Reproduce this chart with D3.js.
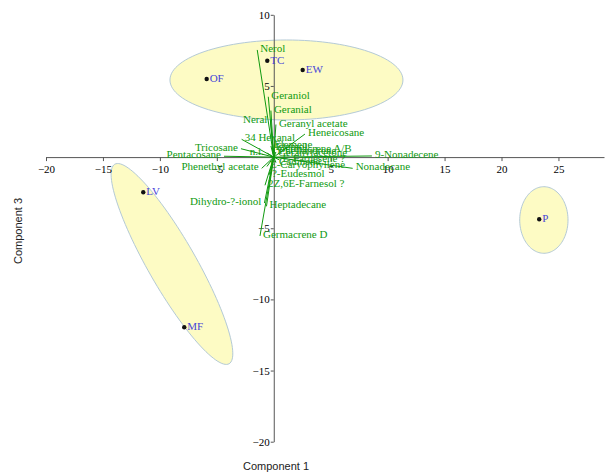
<!DOCTYPE html>
<html>
<head>
<meta charset="utf-8">
<script src="https://cdn.jsdelivr.net/npm/d3@7/dist/d3.min.js"></script>
<style>
  html, body { margin: 0; padding: 0; background: #fff; }
  svg { display: block; }
  .tick text { font-family: "Liberation Serif", serif; font-size: 11px; fill: #000; }
</style>
</head>
<body>
<svg id="chart" width="606" height="473"></svg>
<script>
// Sample scores on components 1 and 3
const sampleNames = ["OF", "TC", "EW", "LV", "MF", "P"];
const sampleC1 = [-5.89, -0.57, 2.54, -11.46, -7.86, 23.31];
const sampleC3 = [5.49, 6.77, 6.12, -2.47, -11.96, -4.37];

// Group ellipses: centre and the two semi-axis vectors, in component units
const groupCentres = [[1.115, 5.42], [-8.94, -7.51], [23.72, -4.42]];
const groupAxisA = [[10.23, 0], [5.02, -7.01], [2.12, 0]];
const groupAxisB = [[0, 2.81], [-1.83, -0.84], [0, 2.34]];

// Compound loadings (biplot vectors) on components 1 and 3
const loadingNames = [
  "Nerol", "Geraniol", "Geranial", "Neral", "Geranyl acetate", "34 Hexanal",
  "Heneicosane", "Tricosane", "Pentacosane", "Phenethyl acetate", "n.i.",
  "Dihydro-?-ionol", "Heptadecane", "Germacrene D", "2Z,6E-Farnesol ?",
  "?-Eudesmol", "9-Nonadecene", "Nonadecane", "Elemol", "Elemene",
  "Germacrene A/B", "Phellandrene", "Geranylacetone", "E-Farnesene ?",
  "Cadinene", "E-Caryophyllene"
];
const loadingC1 = [
  -1.45, -0.48, -0.25, -0.29, 0.19, -2.82,
  2.74, -2.88, -4.37, -1.06, -0.60,
  -0.82, -0.64, -1.21, -0.77,
  -0.42, 8.62, 6.93, -0.11, -0.25,
  0.06, 0.19, 0.11, 0.50,
  0.19, -0.60
];
const loadingC3 = [
  7.53, 4.24, 3.27, 2.57, 2.29, 1.25,
  1.62, 0.59, 0.06, -0.79, 0.29,
  -3.23, -3.46, -5.54, -1.98,
  -1.26, 0.08, -0.79, 0.64, 0.78,
  0.53, 0.36, 0.22, -0.20,
  -0.38, -0.66
];
// Loadings whose names sit to the left of the vector tip
const leftLabelled = ["Neral", "Tricosane", "Pentacosane", "Phenethyl acetate", "n.i.", "Dihydro-?-ionol"];

// Axis ticks
const xTicks = [-20, -15, -10, -5, 5, 10, 15, 20, 25];
const yTicks = [-20, -15, -10, -5, 5, 10];

const svg = d3.select("#chart");
const serif = '"Liberation Serif", serif';
const green = "#109a10";

const x = d3.scaleLinear().domain([-20, 29]).range([46, 604]);
const y = d3.scaleLinear().domain([-20, 10]).range([441.7, 14.8]);

// Group ellipses
const ellipseLine = d3.line().x(d => x(d[0])).y(d => y(d[1])).curve(d3.curveLinearClosed);
groupCentres.forEach((c, i) => {
  const a = groupAxisA[i], b = groupAxisB[i];
  const pts = d3.range(0, 120).map(k => {
    const t = (k / 120) * 2 * Math.PI;
    return [c[0] + Math.cos(t) * a[0] + Math.sin(t) * b[0],
            c[1] + Math.cos(t) * a[1] + Math.sin(t) * b[1]];
  });
  svg.append("path")
    .attr("d", ellipseLine(pts))
    .attr("fill", "#fdfbc4")
    .attr("stroke", "#b4cad6")
    .attr("stroke-width", 1);
});

// Axes crossing at the origin
const xAxis = svg.append("g")
  .attr("transform", `translate(0,${y(0)})`)
  .call(d3.axisBottom(x).tickValues(xTicks).tickSize(4).tickSizeOuter(0).tickFormat(d3.format("d")));
const yAxis = svg.append("g")
  .attr("transform", `translate(${x(0)},0)`)
  .call(d3.axisLeft(y).tickValues(yTicks).tickSize(3).tickSizeOuter(0).tickFormat(d3.format("d")));
[xAxis, yAxis].forEach(g => {
  g.select(".domain").attr("stroke", "#555");
  g.selectAll(".tick line").attr("stroke", "#555");
});
xAxis.selectAll(".tick text").attr("dy", null).attr("y", 16);
yAxis.selectAll(".tick text").attr("x", -4);

// Loading vectors and their names
const loadings = loadingNames.map((n, i) => ({ name: n, c1: loadingC1[i], c3: loadingC3[i] }));
svg.append("g").selectAll("line")
  .data(loadings).join("line")
  .attr("x1", x(0)).attr("y1", y(0))
  .attr("x2", d => x(d.c1)).attr("y2", d => y(d.c3))
  .attr("stroke", green).attr("stroke-width", 1);
svg.append("g").selectAll("text")
  .data(loadings).join("text")
  .attr("x", d => x(d.c1) + (leftLabelled.includes(d.name) ? -3 : 3))
  .attr("y", d => y(d.c3) + 2)
  .attr("text-anchor", d => leftLabelled.includes(d.name) ? "end" : "start")
  .attr("font-family", serif).attr("font-size", 11)
  .attr("fill", green)
  .text(d => d.name);

// Sample points
const samples = sampleNames.map((n, i) => ({ name: n, c1: sampleC1[i], c3: sampleC3[i] }));
svg.append("g").selectAll("circle")
  .data(samples).join("circle")
  .attr("cx", d => x(d.c1)).attr("cy", d => y(d.c3))
  .attr("r", 2.2).attr("fill", "#111");
svg.append("g").selectAll("text")
  .data(samples).join("text")
  .attr("x", d => x(d.c1) + 3).attr("y", d => y(d.c3) + 3)
  .attr("font-family", serif).attr("font-size", 11)
  .attr("fill", "#4646d8")
  .text(d => d.name);

// Axis titles
svg.append("text")
  .attr("x", 276).attr("y", 470)
  .attr("text-anchor", "middle")
  .attr("font-family", '"Liberation Sans", sans-serif').attr("font-size", 11)
  .attr("fill", "#222")
  .text("Component 1");
svg.append("text")
  .attr("transform", "translate(22,231) rotate(-90)")
  .attr("text-anchor", "middle")
  .attr("font-family", '"Liberation Sans", sans-serif').attr("font-size", 11)
  .attr("fill", "#222")
  .text("Component 3");
</script>
</body>
</html>
